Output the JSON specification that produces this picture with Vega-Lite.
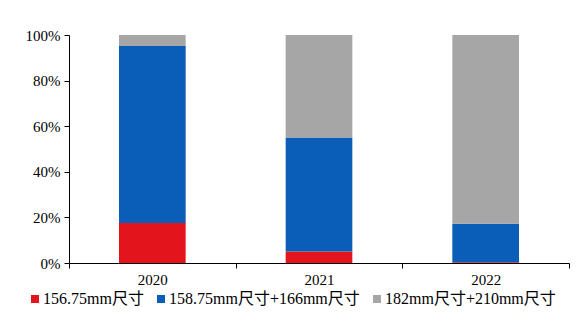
{
  "$schema": "https://vega.github.io/schema/vega-lite/v6.json",
  "width": 500,
  "height": 228,
  "autosize": {"type": "none"},
  "padding": {"left": 69, "top": 35, "right": 16, "bottom": 59},
  "background": "white",
  "config": {
    "view": {"stroke": null},
    "font": "Liberation Serif, Noto Sans CJK SC",
    "axis": {"labelFont": "Liberation Serif", "labelColor": "#000", "labelFontSize": 15, "domainColor": "#000", "tickColor": "#000", "grid": false, "title": null}
  },
  "data": {
    "values": [
      {"year": "2020", "series": "156.75mm尺寸", "k": 0, "v": 17.5},
      {"year": "2020", "series": "158.75mm尺寸+166mm尺寸", "k": 1, "v": 77.7},
      {"year": "2020", "series": "182mm尺寸+210mm尺寸", "k": 2, "v": 4.8},
      {"year": "2021", "series": "156.75mm尺寸", "k": 0, "v": 5},
      {"year": "2021", "series": "158.75mm尺寸+166mm尺寸", "k": 1, "v": 50},
      {"year": "2021", "series": "182mm尺寸+210mm尺寸", "k": 2, "v": 45},
      {"year": "2022", "series": "156.75mm尺寸", "k": 0, "v": 0.3},
      {"year": "2022", "series": "158.75mm尺寸+166mm尺寸", "k": 1, "v": 16.9},
      {"year": "2022", "series": "182mm尺寸+210mm尺寸", "k": 2, "v": 82.8}
    ]
  },
  "mark": {"type": "bar", "width": {"band": 0.4}},
  "encoding": {
    "x": {
      "field": "year", "type": "nominal",
      "scale": {"paddingInner": 0, "paddingOuter": 0},
      "axis": {"labelAngle": 0, "tickBand": "extent", "tickSize": 5, "labelPadding": 4, "domainWidth": 1}
    },
    "y": {
      "field": "v", "type": "quantitative", "stack": "normalize",
      "scale": {"domain": [0, 1]},
      "axis": {"format": ".0%", "values": [0, 0.2, 0.4, 0.6, 0.8, 1], "tickSize": 5, "labelPadding": 4}
    },
    "color": {
      "field": "series", "type": "nominal",
      "scale": {"domain": ["156.75mm尺寸", "158.75mm尺寸+166mm尺寸", "182mm尺寸+210mm尺寸"], "range": ["#E3141B", "#0A5EB8", "#A6A6A6"]},
      "legend": {
        "orient": "none", "legendX": -42, "legendY": 256, "direction": "horizontal",
        "title": null, "symbolType": "square", "symbolSize": 64, "symbolStrokeWidth": 0,
        "labelFont": "Liberation Serif, Noto Sans CJK SC", "labelFontSize": 16, "labelColor": "#000",
        "labelLimit": 400, "labelOffset": 0, "columnPadding": 9, "symbolOffset": 0
      }
    },
    "order": {"field": "k"}
  }
}
